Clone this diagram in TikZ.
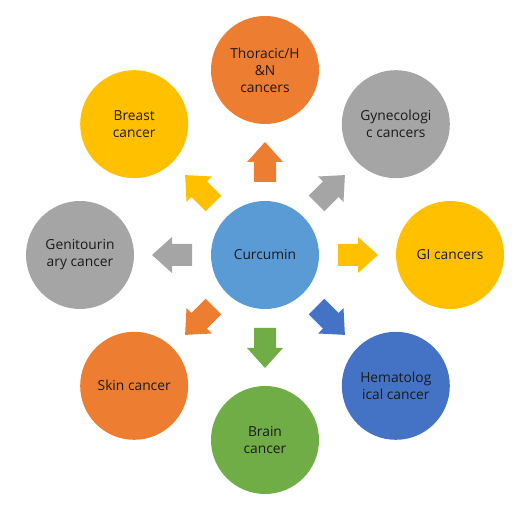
\documentclass[tikz,border=0pt]{standalone}
\usepackage{fontspec}
\setmainfont{Open Sans}
\usetikzlibrary{calc}
\definecolor{corange}{HTML}{ED7D31}
\definecolor{cgray}{HTML}{A5A5A5}
\definecolor{cyellow}{HTML}{FFC000}
\definecolor{clblue}{HTML}{5B9BD5}
\definecolor{cdblue}{HTML}{4472C4}
\definecolor{cgreen}{HTML}{70AD47}
\definecolor{ctext}{HTML}{1A1A1A}
\tikzset{
  circ/.style={circle, minimum size=108pt, inner sep=0pt, align=center,
    text=ctext, font=\fontsize{13.8pt}{17pt}\selectfont},
  barrow/.pic={\fill (-20,-11) -- (0,-11) -- (0,-18) -- (20,0) -- (0,18) -- (0,11) -- (-20,11) -- cycle;}
}
\begin{document}
\begin{tikzpicture}[x=1pt,y=1pt]
\useasboundingbox (0,0) rectangle (525,505);
\node[circ, fill=clblue] (cur) at (265,250) {Curcumin};
\node[circ, fill=corange] (tho) at ($(cur)+(90:185)$) {Thoracic/H\\\&N\\cancers};
\node[circ, fill=cgray] (gyn) at ($(cur)+(45:185)$) {Gynecologi\\c cancers};
\node[circ, fill=cyellow] (gi) at ($(cur)+(0:185)$) {GI cancers};
\node[circ, fill=cdblue] (hem) at ($(cur)+(-45:185)$) {Hematolog\\ical cancer};
\node[circ, fill=cgreen] (bra) at ($(cur)+(-90:185)$) {Brain\\cancer};
\node[circ, fill=corange] (ski) at ($(cur)+(-135:185)$) {Skin cancer};
\node[circ, fill=cgray] (gen) at ($(cur)+(180:185)$) {Genitourin\\ary cancer};
\node[circ, fill=cyellow] (bre) at ($(cur)+(135:185)$) {Breast\\cancer};
\pic[corange, rotate=90] at ($(cur)+(90:93)$) {barrow};
\pic[cgray, rotate=45] at ($(cur)+(45:93)$) {barrow};
\pic[cyellow, rotate=0] at ($(cur)+(0:93)$) {barrow};
\pic[cdblue, rotate=-45] at ($(cur)+(-45:93)$) {barrow};
\pic[cgreen, rotate=-90] at ($(cur)+(-90:93)$) {barrow};
\pic[corange, rotate=-135] at ($(cur)+(-135:93)$) {barrow};
\pic[cgray, rotate=180] at ($(cur)+(180:93)$) {barrow};
\pic[cyellow, rotate=135] at ($(cur)+(135:93)$) {barrow};
\end{tikzpicture}
\end{document}
